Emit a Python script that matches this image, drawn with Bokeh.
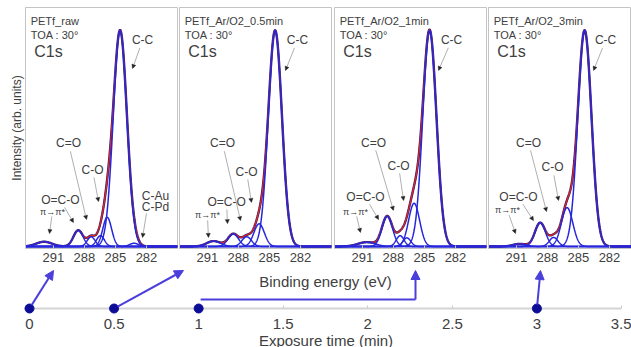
import numpy as np
from bokeh.plotting import figure
from bokeh.layouts import row, column
from bokeh.models import (Range1d, FixedTicker, Label, Arrow, NormalHead,
                          CustomJSTickFormatter)
from bokeh.embed import file_html
from bokeh.resources import INLINE

# ---------------- data ----------------
panel_titles = ["PETf_raw", "PETf_Ar/O2_0.5min", "PETf_Ar/O2_1min", "PETf_Ar/O2_3min"]
toa_text = "TOA : 30°"
region_text = "C1s"
exposure_min = [0, 0.5, 1, 3]
be_ticks = [291, 288, 285, 282]
time_ticks = [0, 0.5, 1, 1.5, 2, 2.5, 3, 3.5]

# fitted components: centre (eV), height (normalised), FWHM (eV)
raw_center = [291.9, 288.6, 287.35, 286.45, 285.8, 284.55, 283.2]
raw_height = [0.022, 0.075, 0.045, 0.050, 0.135, 1.00, 0.015]
raw_fwhm = [1.8, 1.1, 0.9, 0.9, 1.0, 1.55, 1.0]

t05_center = [290.4, 288.5, 287.2, 286.0, 284.45]
t05_height = [0.025, 0.058, 0.045, 0.105, 1.00]
t05_fwhm = [1.6, 1.2, 1.1, 1.2, 1.55]

t1_center = [290.6, 288.6, 287.35, 286.7, 286.0, 284.5]
t1_height = [0.020, 0.140, 0.050, 0.040, 0.200, 1.00]
t1_fwhm = [2.0, 1.2, 0.9, 0.9, 1.25, 1.55]

t3_center = [290.7, 288.7, 287.4, 286.1, 284.4]
t3_height = [0.012, 0.110, 0.042, 0.180, 1.00]
t3_fwhm = [1.5, 1.2, 1.0, 1.3, 1.55]

fits = [(raw_center, raw_height, raw_fwhm),
        (t05_center, t05_height, t05_fwhm),
        (t1_center, t1_height, t1_fwhm),
        (t3_center, t3_height, t3_fwhm)]

# ---------------- annotation layout (label pos, pointer pos) ----------------
ann = [
    [("C-C", 282.38, 0.954, 283.35, 0.824), ("C=O", 289.54, 0.477, 287.8, 0.125),
     ("C-O", 287.22, 0.356, 286.64, 0.208), ("O=C-O", 290.32, 0.213, 289.06, 0.111),
     ("π→π*", 291.09, 0.162, 291.38, 0.06)],
    [("C-C", 282.29, 0.954, 283.45, 0.815), ("C=O", 289.54, 0.477, 287.8, 0.12),
     ("C-O", 287.22, 0.347, 286.74, 0.204), ("O=C-O", 289.15, 0.208, 289.06, 0.106),
     ("π→π*", 291.0, 0.144, 290.9, 0.042)],
    [("C-C", 282.38, 0.954, 283.64, 0.815), ("C=O", 289.93, 0.481, 288.0, 0.167),
     ("C-O", 287.51, 0.375, 287.02, 0.213), ("O=C-O", 290.7, 0.227, 289.44, 0.125),
     ("π→π*", 291.67, 0.162, 291.19, 0.065)],
    [("C-C", 282.38, 0.954, 283.54, 0.815), ("C=O", 289.83, 0.481, 288.09, 0.162),
     ("C-O", 287.51, 0.366, 286.93, 0.213), ("O=C-O", 290.8, 0.227, 289.35, 0.12),
     ("π→π*", 291.86, 0.167, 291.09, 0.06)],
]

FONT = "Liberation Sans"
TXT = "#404040"
GRID = "#c4c4c4"
C_COMP = "#2626dc"
C_ENV = "#e0251b"
C_DATA = "#1a1a78"
C_ARROW = "#4b3fdc"
C_DOT = "#0c0c96"

E0 = 293.7
PX_PER_EV = 10.34
PX_PER_I = 216.0
Y0, Y1 = -2 / PX_PER_I, 239 / PX_PER_I

widths = [178, 154, 155, 144]
b_left = [25, 1, 2, 1]
b_right = [1, 1, 1, 0]
E_lo = 279.0

E = np.arange(E_lo, E0 + 0.001, 0.02)


def comp(c, h, w):
    s = w / 2.3548
    return h * np.exp(-0.5 * ((E - c) / s) ** 2)


def add_label(p, x, y, text, size, align="center"):
    p.add_layout(Label(x=x, y=y, text=text, text_font=FONT, text_font_size=size,
                       text_color=TXT, text_align=align, text_baseline="middle"))


def leader(p, sx, sy, tx, ty):
    p.add_layout(Arrow(x_start=sx, y_start=sy, x_end=tx, y_end=ty,
                       line_color="#9a9a9a", line_width=0.8,
                       end=NormalHead(size=4, fill_color="#222222",
                                      line_color="#222222", line_width=0.5)))


panels = []
for k in range(4):
    frame_w = widths[k] - b_left[k] - b_right[k]
    x_end = E0 - frame_w / PX_PER_EV
    p = figure(width=widths[k], height=268, x_range=Range1d(E0, x_end),
               y_range=Range1d(Y0, Y1), output_backend="svg",
               toolbar_location=None, min_border_left=b_left[k],
               min_border_right=b_right[k], min_border_top=7, min_border_bottom=20)
    p.grid.visible = False
    p.outline_line_color = GRID
    p.background_fill_color = "white"
    p.border_fill_color = "white"

    xa = p.xaxis[0]
    xa.ticker = FixedTicker(ticks=be_ticks)
    xa.major_label_text_font = FONT
    xa.major_label_text_font_size = "13px"
    xa.major_label_text_color = TXT
    xa.major_label_standoff = 4
    xa.major_tick_in = 3
    xa.major_tick_out = 0
    xa.major_tick_line_color = GRID
    xa.minor_tick_line_color = None
    xa.axis_line_color = GRID

    ya = p.yaxis[0]
    ya.ticker = FixedTicker(ticks=[])
    ya.minor_tick_line_color = None
    ya.axis_line_color = GRID
    if k == 0:
        ya.axis_label = "Intensity (arb. units)"
        ya.axis_label_text_font = FONT
        ya.axis_label_text_font_size = "12px"
        ya.axis_label_text_font_style = "normal"
        ya.axis_label_text_color = TXT
        ya.axis_label_standoff = 2

    cen, hei, fw = fits[k]
    comps = [comp(c, h, w) for c, h, w in zip(cen, hei, fw)]
    env = np.sum(comps, axis=0)
    p.line(E, env, line_color=C_DATA, line_width=2.4)
    p.line(E, env, line_color=C_ENV, line_width=1.4)
    for y in comps:
        p.line(E, y, line_color=C_COMP, line_width=1.5)

    add_label(p, 293.2, 1.046, panel_titles[k], "11px", "left")
    add_label(p, 293.2, 0.977, toa_text, "11px", "left")
    add_label(p, 292.85, 0.903, region_text, "16px", "left")

    for text, lx, ly, tx, ty in ann[k]:
        small = text.startswith("π")
        add_label(p, lx, ly, text, "9px" if small else "12px")
        dxp = -(tx - lx) * PX_PER_EV
        dyp = (ty - ly) * PX_PER_I
        L = (dxp ** 2 + dyp ** 2) ** 0.5
        off = 5 if small else 8
        sx = lx - (dxp / L * off) / PX_PER_EV
        sy = ly + (dyp / L * off) / PX_PER_I
        leader(p, sx, sy, tx, ty)

    if k == 0:
        add_label(p, 281.13, 0.236, "C-Au", "12px")
        add_label(p, 281.13, 0.181, "C-Pd", "12px")
        leader(p, 282.0, 0.153, 282.38, 0.042)

    panels.append(p)

# ---------------- exposure-time strip ----------------
T0, T1 = time_ticks[0], time_ticks[-1]
PX_PER_T = 169.14
ZERO_PAGE_X = 29
TL_BL = 20
t_start = (TL_BL - ZERO_PAGE_X) / PX_PER_T
t_end = (631 - ZERO_PAGE_X) / PX_PER_T
pt = figure(width=631, height=79, x_range=Range1d(t_start, t_end),
            y_range=Range1d(-39, 40),
            output_backend="svg", toolbar_location=None, y_axis_location=None,
            min_border_left=TL_BL, min_border_right=0, min_border_top=0,
            min_border_bottom=0)
pt.grid.visible = False
pt.outline_line_color = None
pt.background_fill_color = "white"
pt.border_fill_color = "white"

ta = pt.xaxis[0]
ta.fixed_location = 0
ta.level = "underlay"
ta.ticker = FixedTicker(ticks=time_ticks)
ta.formatter = CustomJSTickFormatter(code="return tick.toString();")
ta.axis_line_color = None
ta.major_tick_in = 3
ta.major_tick_out = 0
ta.major_tick_line_color = "#cccccc"
ta.minor_tick_line_color = None
ta.major_label_text_font = FONT
ta.major_label_text_font_size = "15px"
ta.major_label_text_color = TXT
ta.major_label_standoff = 10
ta.axis_label = "Exposure time (min)"
ta.axis_label_text_font = FONT
ta.axis_label_text_font_size = "15px"
ta.axis_label_text_font_style = "normal"
ta.axis_label_text_color = TXT
ta.axis_label_standoff = 0

pt.line([T0, T1], [0, 0], line_color="#d4d4d4", line_width=2)

arrow_tip_page_x = [53, 183, 415, 540]
tip_y = 38
l_y = 9
for k, t in enumerate(exposure_min):
    tip_t = (arrow_tip_page_x[k] - ZERO_PAGE_X) / PX_PER_T
    head = NormalHead(size=9, fill_color=C_ARROW, line_color=C_ARROW, line_width=1)
    if k == 2:
        pt.line([t + 2 / PX_PER_T, tip_t], [l_y, l_y], line_color=C_ARROW, line_width=2)
        pt.add_layout(Arrow(x_start=tip_t, y_start=l_y, x_end=tip_t, y_end=tip_y,
                            line_color=C_ARROW, line_width=2, end=head))
    else:
        dxp = (tip_t - t) * PX_PER_T
        dyp = tip_y
        L = (dxp ** 2 + dyp ** 2) ** 0.5
        pt.add_layout(Arrow(x_start=t + dxp / L * 4 / PX_PER_T, y_start=dyp / L * 4,
                            x_end=tip_t, y_end=tip_y, line_color=C_ARROW,
                            line_width=2, end=head))

pt.scatter(exposure_min, [0] * len(exposure_min), size=9, fill_color=C_DOT,
           line_color=C_DOT)

pt.add_layout(Label(x=(T0 + T1) / 2, y=27, text="Binding energy (eV)", text_font=FONT,
                    text_font_size="15px", text_color=TXT, text_align="center",
                    text_baseline="middle"))

layout = column(row(*panels), pt)
open("out.html", "w").write(file_html(layout, INLINE))
